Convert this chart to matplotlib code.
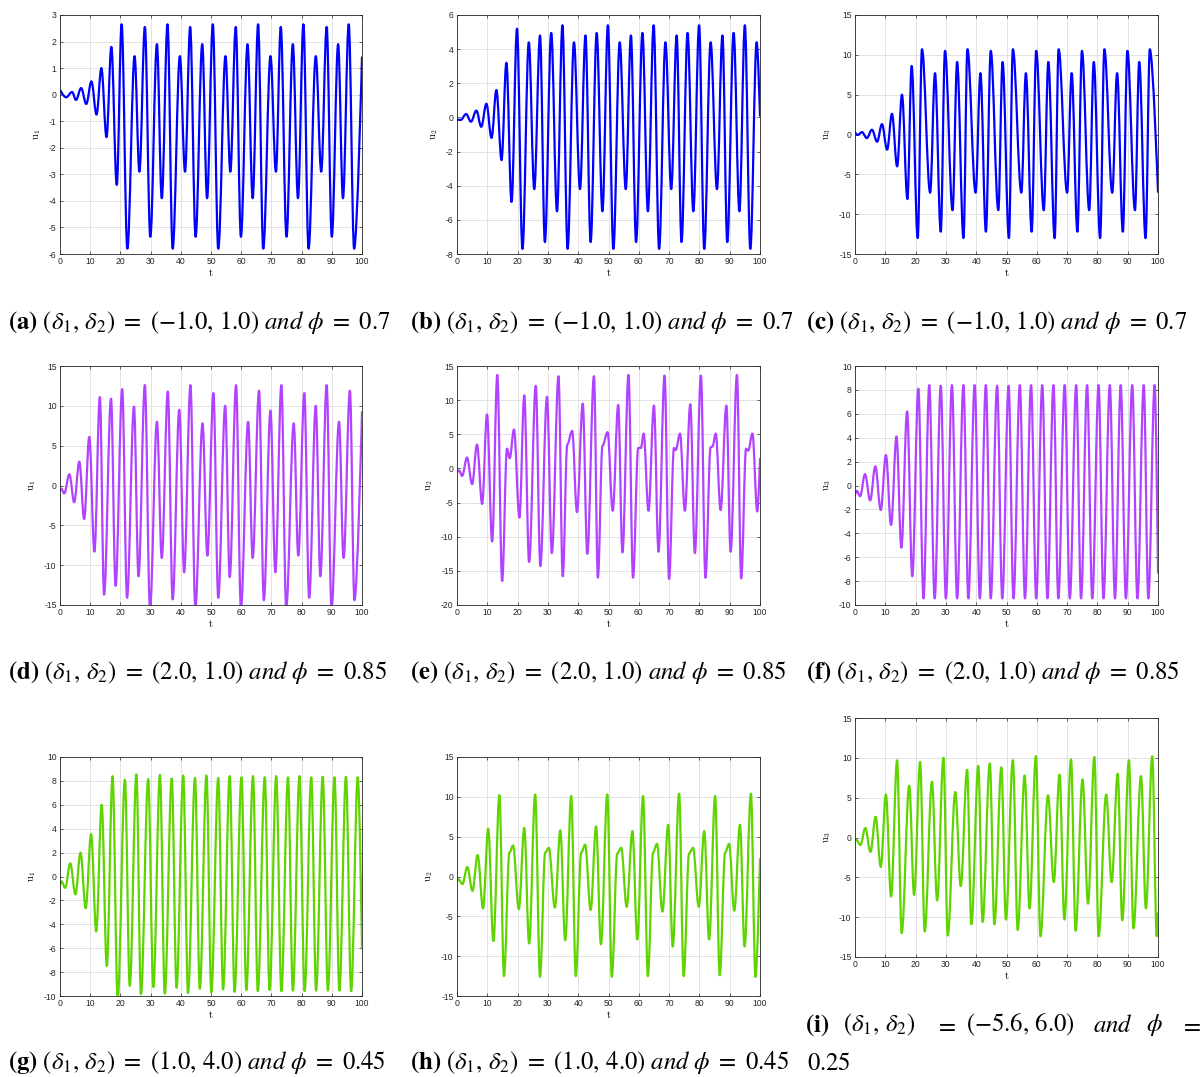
import matplotlib
matplotlib.use('Agg')
import matplotlib.pyplot as plt
from matplotlib.path import Path
from matplotlib.patches import PathPatch

plt.rcParams['axes.unicode_minus'] = False

# extrema (t, u)
ta = [0, 2, 4, 5.3, 7, 8.7, 10.4, 12.1, 13.7, 15.4, 17, 18.8, 20.4, 22.3, 24.7, 26.3, 28.1, 29.9, 32.1, 33.7,
      35.6, 37.3, 39.7, 41.4, 43.1, 44.9, 47.1, 48.7, 50.6, 52.4, 54.8, 56.4, 58.2, 59.9, 62.1, 63.8, 65.6, 67.3,
      69.7, 71.5, 73.1, 75, 77.1, 78.8, 80.6, 82.3, 84.7, 86.5, 88.3, 90, 92.1, 93.7, 95.6, 97.4, 100]
ua = [0.18, -0.1, 0.1, -0.2, 0.25, -0.35, 0.5, -0.75, 1.0, -1.6, 1.8, -3.4, 2.65, -5.8, 1.45, -2.9, 2.55, -5.35,
      1.9, -3.9, 2.65, -5.8, 1.45, -2.9, 2.55, -5.35, 1.9, -3.9, 2.65, -5.8, 1.45, -2.9, 2.55, -5.35, 1.9, -3.9,
      2.65, -5.8, 1.45, -2.9, 2.55, -5.35, 1.9, -3.9, 2.65, -5.8, 1.45, -2.9, 2.55, -5.35, 1.9, -3.9, 2.65, -5.8, 1.4]

tb = [0, 1.2, 3, 4.6, 6.4, 8, 9.7, 11.4, 13, 14.7, 16.3, 18, 19.8, 21.6, 23.7, 25.5, 27.4, 29, 31.1, 33,
      34.8, 36.5, 38.6, 40.6, 42.4, 44.1, 46.1, 48, 49.8, 51.6, 53.7, 55.7, 57.4, 59.1, 61.2, 63, 64.9, 66.7,
      68.8, 70.7, 72.5, 74.1, 76.1, 78, 79.9, 81.6, 83.7, 85.8, 87.6, 89.2, 91.3, 93.2, 95, 96.8, 98.9, 100]
ub = [-0.12, -0.15, 0.2, -0.25, 0.4, -0.55, 0.8, -1.2, 1.6, -2.5, 3.2, -4.95, 5.2, -7.7, 4.4, -4.2, 4.8, -7.3,
      4.95, -5.5, 5.4, -7.7, 4.4, -4.2, 4.8, -7.3, 4.95, -5.5, 5.4, -7.7, 4.4, -4.2, 4.8, -7.3, 4.95, -5.5,
      5.4, -7.7, 4.4, -4.2, 4.8, -7.3, 4.95, -5.5, 5.4, -7.7, 4.4, -4.2, 4.8, -7.3, 4.95, -5.5, 5.4, -7.7, 4.4, 0.1]

tc = [0, 0.9, 2.3, 3.9, 5.6, 7.3, 8.9, 10.6, 12.2, 13.9, 15.5, 17.3, 18.7, 20.7, 22.1, 24.8, 26.4, 28.3, 29.7,
      32.2, 33.7, 35.8, 37.1, 39.8, 41.4, 43.2, 44.8, 47.3, 48.7, 50.8, 52.1, 54.9, 56.4, 58.3, 59.8, 62.3, 63.8,
      65.9, 67.2, 70, 71.5, 73.4, 74.9, 77.3, 78.8, 80.9, 82.3, 84.9, 86.5, 88.4, 89.9, 92.4, 93.8, 95.9, 97.3, 100]
uc = [0.25, -0.05, 0.3, -0.45, 0.6, -0.9, 1.3, -1.9, 2.6, -4.0, 5.0, -8.1, 8.6, -13, 10.7, -7.3, 7.7, -12.2,
      10.5, -9.5, 9.1, -13, 10.7, -7.3, 7.7, -12.2, 10.5, -9.5, 9.1, -13, 10.7, -7.3, 7.7, -12.2, 10.5, -9.5,
      9.1, -13, 10.7, -7.3, 7.7, -12.2, 10.5, -9.5, 9.1, -13, 10.7, -7.3, 7.7, -12.2, 10.5, -9.5, 9.1, -13, 10.7, -7.2]

td = [0, 0.4, 1.4, 3.1, 4.7, 6.4, 8, 9.7, 11.4, 13.2, 14.6, 16.9, 18.4, 20.6, 22.2, 24.5, 26, 28.1, 29.8, 32.1,
      33.7, 35.7, 37.3, 39.5, 41.1, 43.2, 44.8, 47.2, 48.8, 50.8, 52.4, 54.7, 56.2, 58.3, 59.9, 62.3, 63.8, 65.9,
      67.5, 69.7, 71.3, 73.3, 74.9, 77.4, 78.9, 80.9, 82.5, 84.7, 86.2, 88.3, 89.9, 92.4, 93.9, 96, 97.5, 100]
ud = [-0.6, -0.4, -1.0, 1.4, -2.1, 3.0, -4.2, 6.1, -8.3, 11.1, -13.7, 10.9, -12.6, 12.1, -14.1, 9.9, -11.4,
      12.6, -15.4, 8.0, -9.1, 11.8, -14.3, 9.5, -10.9, 12.6, -15.4, 7.8, -8.8, 11.6, -14.1, 10.0, -11.5, 12.6,
      -15.4, 8.0, -9.1, 11.9, -14.4, 9.4, -10.9, 12.6, -15.4, 7.8, -8.8, 11.6, -14.1, 10.0, -11.4, 12.6, -15.4,
      8.0, -9.1, 11.9, -14.4, 9.2]

te = [0, 0.7, 1.7, 3.3, 5, 6.6, 8.3, 9.9, 11.6, 13.3, 14.9, 16.5, 17.4, 18.8, 20.6, 22.2, 23.8, 26, 27.5, 29.7,
      31.3, 33.5, 34.9, 36.4, 38, 39.6, 41.5, 43, 45.2, 46.5, 48, 49.7, 51.4, 53.2, 54.6, 56.6, 58.1, 59.8, 60.7,
      61.6, 63.2, 65, 66.5, 68.5, 70, 71.6, 72.2, 73.6, 75.2, 77, 78.5, 80.5, 82, 83.7, 84.3, 85.4, 87, 88.9,
      90.3, 92.4, 93.8, 95.4, 96.1, 97.5, 99.1, 100]
ue = [-0.6, -0.3, -1.1, 1.6, -2.3, 3.5, -5.2, 7.9, -10.7, 13.7, -16.5, 2.9, 1.5, 5.7, -7.2, 10.7, -13.7, 12.1,
      -14.3, 10.5, -12.4, 13.5, -15.8, 3.5, 5.5, -6.4, 9.5, -12.5, 13.5, -16.0, 3.3, 5.3, -6.2, 9.3, -12.3, 13.7,
      -16.0, 3.0, 3.0, 5.1, -6.2, 9.2, -12.2, 13.6, -16.2, 3.0, 2.7, 5.1, -6.2, 9.4, -12.4, 13.6, -16.0, 3.1,
      3.2, 5.1, -6.1, 9.2, -12.2, 13.7, -16.1, 2.9, 2.6, 5.1, -6.3, 1.4]

tf = [0, 0.6, 1.7, 3.3, 5, 6.7, 8.5, 10.2, 11.9, 13.7, 15.3, 17.2, 18.9, 20.9, 22.6, 24.5, 26.3, 28.3, 30, 32,
      33.7, 35.8, 37.4, 39.5, 41.2, 43.2, 44.8, 46.9, 48.6, 50.7, 52.3, 54.4, 56.1, 58.1, 59.8, 61.8, 63.5, 65.5,
      67.1, 69.2, 70.9, 73, 74.6, 76.6, 78.3, 80.4, 82, 84.1, 85.8, 87.7, 89.4, 91.5, 93.2, 95.3, 96.8, 98.9, 100]
uf = [-0.8, -0.45, -0.9, 0.95, -1.25, 1.6, -2.05, 2.55, -3.3, 4.1, -5.2, 6.2, -7.6, 8.1, -9.45,
      8.4, -9.45, 8.35, -9.45, 8.4, -9.45, 8.4, -9.45, 8.4, -9.45,
      8.4, -9.45, 8.35, -9.45, 8.35, -9.45, 8.4, -9.45, 8.4, -9.45,
      8.4, -9.45, 8.4, -9.45, 8.4, -9.45, 8.4, -9.45, 8.4, -9.45,
      8.4, -9.45, 8.4, -9.45, 8.4, -9.45, 8.4, -9.45, 8.4, -9.45,
      8.4, -7.3]

tg = [0, 0.5, 1.7, 3.4, 5.1, 6.8, 8.5, 10.3, 12, 13.8, 15.5, 17.4, 19.1, 21.5, 23.1, 25.3, 26.8, 29.2, 30.9,
      33.1, 34.7, 37, 38.6, 40.8, 42.4, 44.7, 46.3, 48.5, 50.1, 52.4, 54, 56.2, 57.8, 60.1, 61.7, 63.9, 65.5,
      67.8, 69.4, 71.6, 73.3, 75.5, 77.1, 79.3, 81, 83.2, 84.8, 87, 88.7, 90.9, 92.5, 94.7, 96.4, 98.6, 100]
ug = [-0.7, -0.4, -0.95, 1.1, -1.5, 2.0, -2.65, 3.55, -4.6, 6.0, -7.5, 8.4, -10.2, 8.1, -9.15, 8.55, -9.85,
      8.15, -9.25, 8.5, -9.8, 8.2, -9.3, 8.45, -9.75, 8.25, -9.4, 8.45, -9.7, 8.25, -9.45, 8.4, -9.65, 8.3,
      -9.5, 8.4, -9.6, 8.3, -9.5, 8.4, -9.6, 8.3, -9.55, 8.4, -9.6, 8.3, -9.55, 8.35, -9.55, 8.3, -9.55, 8.35,
      -9.6, 8.3, -6.0]

th = [0, 0.5, 1.8, 3.4, 5.1, 6.8, 8.6, 10.3, 12, 14, 15.5, 17.3, 18.5, 20.4, 22.2, 23.8, 25.8, 27.4, 29.1, 30.3,
      32.3, 34.1, 35.7, 37.7, 39.2, 41, 42.3, 44.1, 45.9, 47.5, 49.6, 51.1, 52.9, 54.2, 56, 57.9, 59.5, 61.4, 63,
      64.7, 66, 67.8, 69.7, 71.2, 73.3, 74.8, 76.6, 77.9, 79.8, 81.6, 83.2, 85.2, 86.7, 88.5, 89.8, 91.5, 93.4,
      94.9, 97, 98.5, 100]
uh = [-0.6, -0.35, -0.95, 1.2, -1.8, 2.7, -4.0, 6.0, -8.1, 10.2, -12.5, 3.0, 3.9, -4.1, 6.1, -8.4, 10.3, -12.6,
      3.0, 3.6, -3.9, 5.8, -8.0, 10.1, -12.5, 3.0, 4.0, -4.2, 6.3, -8.5, 10.3, -12.6, 2.9, 3.6, -3.8, 5.7, -7.9,
      10.1, -12.5, 3.0, 4.1, -4.4, 6.5, -8.8, 10.4, -12.5, 2.9, 3.6, -3.8, 5.7, -7.9, 10.1, -12.4, 3.0, 4.1,
      -4.3, 6.5, -8.8, 10.4, -12.6, 2.2]

ti = [0, 0.4, 1.8, 3.4, 5.1, 6.8, 8.5, 10.2, 11.9, 13.9, 15.4, 17.9, 19.5, 21.5, 23, 25.4, 27.1, 29.2, 30.6,
      33.1, 34.9, 37, 38.4, 40.7, 42.1, 44.5, 46, 48.3, 49.8, 52.1, 53.7, 56, 57.6, 59.7, 61.2, 63.7, 65.6, 67.5,
      69.1, 71.3, 72.8, 75.1, 76.9, 79, 80.4, 82.9, 84.7, 86.7, 88.2, 90.4, 91.9, 94.4, 96, 98.1, 99.6, 100]
ui = [-0.4, -0.3, -0.95, 1.2, -1.8, 2.6, -3.7, 5.4, -7.4, 9.7, -12.0, 6.5, -7.2, 9.5, -11.8, 7.0, -7.9, 10.0,
      -12.3, 5.7, -6.1, 8.5, -10.9, 9.0, -10.6, 9.3, -10.9, 8.8, -10.3, 9.7, -11.6, 7.8, -8.9, 10.2, -12.4, 5.3,
      -5.6, 7.9, -10.3, 9.8, -11.7, 7.3, -8.3, 10.1, -12.4, 5.4, -5.6, 8.0, -10.4, 9.7, -11.4, 7.7, -8.9, 10.2,
      -12.4, -9.5]

blue, purple, green = '#0000ff', '#b142ff', '#5fd400'

panels = [
    (ta, ua, blue, 'u_1', (-6, 3), range(-6, 4, 1), '(a)', '(-1.0,\\,1.0)', '0.7'),
    (tb, ub, blue, 'u_2', (-8, 6), range(-8, 7, 2), '(b)', '(-1.0,\\,1.0)', '0.7'),
    (tc, uc, blue, 'u_3', (-15, 15), range(-15, 16, 5), '(c)', '(-1.0,\\,1.0)', '0.7'),
    (td, ud, purple, 'u_1', (-15, 15), range(-15, 16, 5), '(d)', '(2.0,\\,1.0)', '0.85'),
    (te, ue, purple, 'u_2', (-20, 15), range(-20, 16, 5), '(e)', '(2.0,\\,1.0)', '0.85'),
    (tf, uf, purple, 'u_3', (-10, 10), range(-10, 11, 2), '(f)', '(2.0,\\,1.0)', '0.85'),
    (tg, ug, green, 'u_1', (-10, 10), range(-10, 11, 2), '(g)', '(1.0,\\,4.0)', '0.45'),
    (th, uh, green, 'u_2', (-15, 15), range(-15, 16, 5), '(h)', '(1.0,\\,4.0)', '0.45'),
    (ti, ui, green, 'u_3', (-15, 15), range(-15, 16, 5), '(i)', '(-5.6,\\,6.0)', '0.25'),
]

# axes boxes in pixels: left, top, right, bottom
boxes = [(60, 15, 362, 254), (457, 15, 760, 254), (855, 15, 1158, 254),
         (60, 366, 362, 605), (457, 366, 760, 605), (855, 366, 1158, 605),
         (60, 757, 362, 996), (457, 757, 760, 996), (855, 718, 1158, 957)]
cap_x = [8, 410, 806]
cap_y = [322, 673, 1063]

W, H = 1202, 1077
fig = plt.figure(figsize=(W / 100, H / 100), dpi=100)


def smooth_path(t, u, k=0.3634):
    # cubic bezier through the extrema, flat tangent at each turning point
    verts = [(t[0], u[0])]
    codes = [Path.MOVETO]
    n = len(t)
    for i in range(n - 1):
        dt = t[i + 1] - t[i]
        c1 = (t[i] + k * dt, u[i]) if i > 0 else (t[i], u[i])
        c2 = (t[i + 1] - k * dt, u[i + 1]) if i < n - 2 else (t[i + 1], u[i + 1])
        verts += [c1, c2, (t[i + 1], u[i + 1])]
        codes += [Path.CURVE4] * 3
    return Path(verts, codes)


FS = 17.8
for idx, (t, u, col, lab, ylim, yticks, tag, delta, phi) in enumerate(panels):
    l, tp, r, b = boxes[idx]
    ax = fig.add_axes([l / W, 1 - b / H, (r - l) / W, (b - tp) / H])
    ax.add_patch(PathPatch(smooth_path(t, u), fill=False, edgecolor=col, lw=1.6,
                           capstyle='round', joinstyle='round'))
    ax.set_xlim(0, 100)
    ax.set_ylim(*ylim)
    ax.set_xticks(range(0, 101, 10))
    ax.set_yticks(list(yticks))
    ax.grid(True, color='#e2e2e2', lw=0.7)
    ax.set_axisbelow(True)
    ax.tick_params(direction='in', length=2.5, width=0.5, top=True, right=True,
                   labelsize=6.2, colors='#262626', pad=2.5)
    for lbl in ax.get_xticklabels() + ax.get_yticklabels():
        lbl.set_fontfamily('Liberation Sans')
    for s in ax.spines.values():
        s.set_color('#262626')
        s.set_linewidth(0.6)
    ax.set_xlabel('$\\mathrm{t}$', fontsize=7.5, labelpad=0.5, math_fontfamily='cm')
    ax.set_ylabel('$\\mathrm{' + lab[0] + '}_' + lab[2] + '$', fontsize=7.5, labelpad=4,
                  math_fontfamily='cm')

    cap = (r'$\mathbf{' + tag + r'}\ (\delta_1,\,\delta_2)\ =\ ' + delta +
           r'\ \mathit{and}\ \phi\ =\ ' + phi + '$')
    if idx < 8:
        fig.text(cap_x[idx % 3] / W, 1 - cap_y[idx // 3] / H, cap, ha='left', va='center',
                 fontsize=FS, math_fontfamily='stix')

# caption (i) is justified over two lines
words = [r'$\mathbf{(i)}$', r'$(\delta_1,\,\delta_2)$', '$=$', '$(-5.6,\\,6.0)$', r'$\mathit{and}$',
         r'$\phi$', '$=$']
word_x = [805, 843, 935, 966, 1093, 1146, 1180]
for w, x in zip(words, word_x):
    fig.text(x / W, 1 - 1025 / H, w, ha='left', va='center', fontsize=FS, math_fontfamily='stix')
fig.text(807 / W, 1 - 1063 / H, '$0.25$', ha='left', va='center', fontsize=FS, math_fontfamily='stix')

fig.savefig('out.png', dpi=100)
